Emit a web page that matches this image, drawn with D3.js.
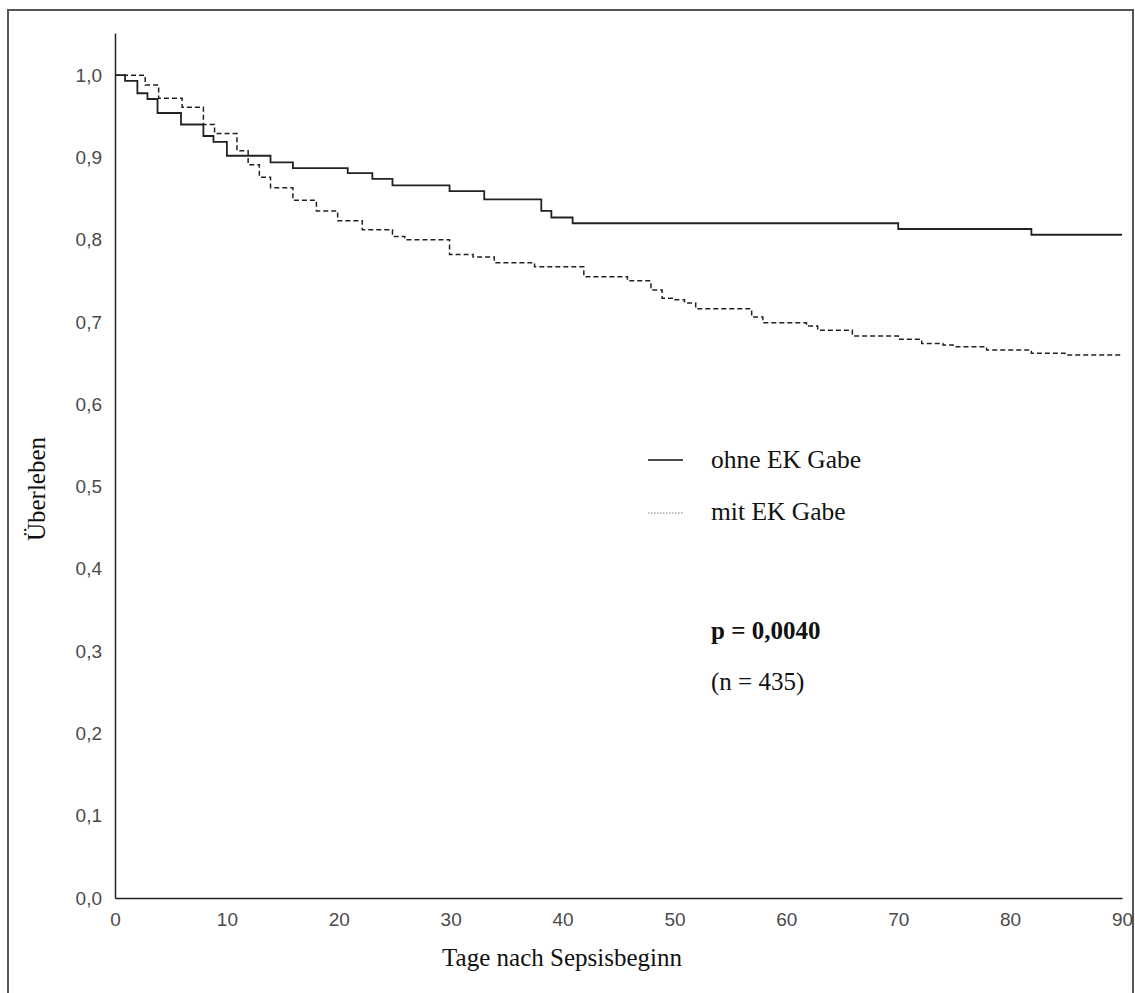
<!DOCTYPE html>
<html>
<head>
<meta charset="utf-8">
<script src="https://cdn.jsdelivr.net/npm/d3@7"></script>
<style>
  body { margin: 0; background: #fff; }
  svg { display: block; }
  .tick text { font-family: "Liberation Sans", Arial, sans-serif; font-size: 19px; fill: #4a4a4a; }
  .serif { font-family: "Liberation Serif", "Times New Roman", serif; fill: #111; }
</style>
</head>
<body>
<svg id="chart"></svg>
<script>
// Kaplan-Meier Schätzungen
var ohneTime = [0, 0.9, 2.0, 2.9, 3.8, 5.9, 7.9, 8.8, 10.0, 13.9, 15.9, 20.8, 23.0, 24.8, 29.9, 33.0, 38.1, 39.0, 40.9, 70.0, 81.9, 90];
var ohneSurv = [1.0, 0.993, 0.978, 0.971, 0.954, 0.940, 0.926, 0.919, 0.902, 0.894, 0.887, 0.881, 0.874, 0.866, 0.859, 0.849, 0.835, 0.827, 0.820, 0.813, 0.806, 0.806];

var mitTime = [0, 2.7, 3.9, 6.0, 7.9, 8.9, 10.9, 11.9, 12.9, 13.9, 15.9, 18.0, 19.9, 22.1, 24.8, 25.9, 29.9, 32.0, 33.9, 37.5, 41.9, 45.8, 47.9, 48.9, 49.9, 50.9, 51.9, 56.9, 57.9, 61.8, 62.8, 65.9, 70.0, 72.1, 74.0, 74.9, 77.9, 81.9, 84.9, 90];
var mitSurv = [1.0, 0.988, 0.972, 0.961, 0.940, 0.929, 0.908, 0.891, 0.876, 0.863, 0.848, 0.835, 0.823, 0.812, 0.804, 0.800, 0.782, 0.779, 0.772, 0.767, 0.755, 0.750, 0.739, 0.729, 0.727, 0.723, 0.716, 0.706, 0.699, 0.695, 0.690, 0.683, 0.679, 0.674, 0.672, 0.670, 0.666, 0.662, 0.660, 0.660];

var xTicks = [0, 10, 20, 30, 40, 50, 60, 70, 80, 90];
var yTicks = [0, 0.1, 0.2, 0.3, 0.4, 0.5, 0.6, 0.7, 0.8, 0.9, 1.0];
var legendLabels = ["ohne EK Gabe", "mit EK Gabe"];

var width = 1135;
var height = 993;

var svg = d3.select("#chart").attr("width", width).attr("height", height);

// Rahmen
svg.append("path")
    .attr("d", "M8,993 L8,10 L1133,10 L1133,993")
    .attr("fill", "none")
    .attr("stroke", "#555")
    .attr("stroke-width", 2);

var x = d3.scaleLinear().domain([0, 90]).range([115, 1122]);
var y = d3.scaleLinear().domain([0, 1.0512]).range([898, 33]);

var fmt = function (d) { return d3.format(".1f")(d).replace(".", ","); };

var xAxis = svg.append("g")
    .attr("transform", "translate(0,898)")
    .call(d3.axisBottom(x).tickValues(xTicks).tickSize(0).tickPadding(15));
xAxis.select(".domain").attr("stroke", "#222").attr("stroke-width", 1.5);

var yAxis = svg.append("g")
    .attr("transform", "translate(115,0)")
    .call(d3.axisLeft(y).tickValues(yTicks).tickFormat(fmt).tickSize(0).tickPadding(13));
yAxis.select(".domain").attr("stroke", "#222").attr("stroke-width", 1.5);

function toPoints(t, s) {
    return t.map(function (d, i) { return [d, s[i]]; });
}

var line = d3.line()
    .x(function (d) { return x(d[0]); })
    .y(function (d) { return y(d[1]); })
    .curve(d3.curveStepAfter);

svg.append("path")
    .datum(toPoints(mitTime, mitSurv))
    .attr("d", line)
    .attr("fill", "none")
    .attr("stroke", "#222")
    .attr("stroke-width", 1.5)
    .attr("stroke-dasharray", "5,3");

svg.append("path")
    .datum(toPoints(ohneTime, ohneSurv))
    .attr("d", line)
    .attr("fill", "none")
    .attr("stroke", "#222")
    .attr("stroke-width", 1.8);

// Achsentitel
svg.append("text")
    .attr("class", "serif")
    .attr("x", 562)
    .attr("y", 966)
    .attr("text-anchor", "middle")
    .style("font-size", "25px")
    .text("Tage nach Sepsisbeginn");

svg.append("text")
    .attr("class", "serif")
    .attr("transform", "translate(45,489) rotate(-90)")
    .attr("text-anchor", "middle")
    .style("font-size", "25px")
    .text("Überleben");

// Legende
var legend = svg.append("g");
legend.append("line")
    .attr("x1", 648).attr("x2", 683).attr("y1", 460).attr("y2", 460)
    .attr("stroke", "#111").attr("stroke-width", 1.5);
legend.append("line")
    .attr("x1", 648).attr("x2", 683).attr("y1", 513).attr("y2", 513)
    .attr("stroke", "#777").attr("stroke-width", 1).attr("stroke-dasharray", "1.5,1.5");
legend.selectAll("text.lab")
    .data(legendLabels)
    .enter().append("text")
    .attr("class", "serif lab")
    .attr("x", 711)
    .attr("y", function (d, i) { return 468 + i * 52; })
    .style("font-size", "25.5px")
    .text(function (d) { return d; });

svg.append("text")
    .attr("class", "serif")
    .attr("x", 711)
    .attr("y", 639)
    .style("font-size", "25px")
    .style("font-weight", "bold")
    .text("p = 0,0040");

svg.append("text")
    .attr("class", "serif")
    .attr("x", 711)
    .attr("y", 690)
    .style("font-size", "25px")
    .text("(n = 435)");
</script>
</body>
</html>
